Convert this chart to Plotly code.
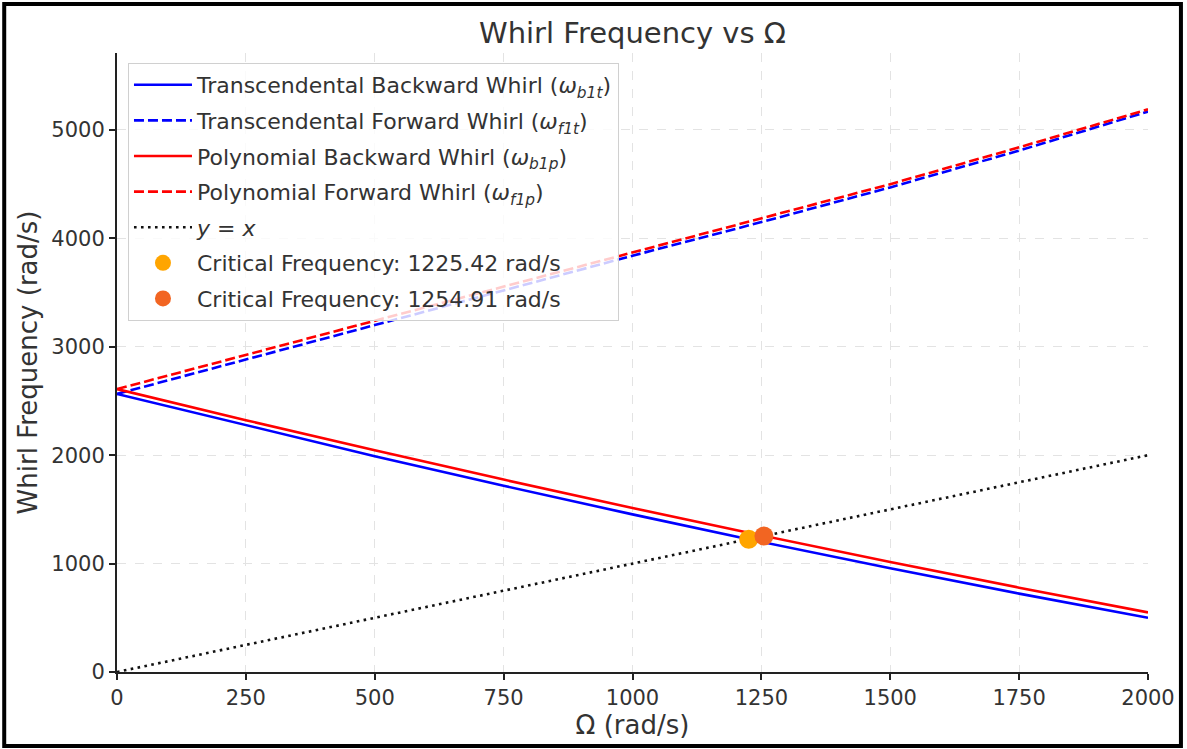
import plotly.graph_objects as go

# Data
omega = [0, 250, 500, 750, 1000, 1250, 1500, 1750, 2000]
w_b1t = [2565, 2276, 1991, 1718, 1454, 1200, 957, 723, 500]
w_f1t = [2565, 2880, 3200, 3520, 3840, 4150, 4470, 4810, 5170]
w_b1p = [2610, 2323, 2045, 1775, 1513, 1260, 1015, 778, 550]
w_f1p = [2610, 2925, 3240, 3555, 3870, 4180, 4500, 4840, 5190]
yx_x = [0, 2000]
crit_1 = 1225.42
crit_2 = 1254.91
x_ticks = [0, 250, 500, 750, 1000, 1250, 1500, 1750, 2000]
y_ticks = [0, 1000, 2000, 3000, 4000, 5000]

FONT = "DejaVu Sans"
TXT = "#333333"
LW = 2.6

fig = go.Figure()
fig.add_trace(go.Scatter(x=omega, y=w_b1t, mode="lines", legendgroup="a",
                         line=dict(color="#0000FF", width=LW),
                         name="Transcendental Backward Whirl (<i>ω</i><sub><i>b1t</i></sub>)"))
fig.add_trace(go.Scatter(x=omega, y=w_f1t, mode="lines", legendgroup="b",
                         line=dict(color="#0000FF", width=LW, dash="10px,4px"),
                         name="Transcendental Forward Whirl (<i>ω</i><sub><i>f1t</i></sub>)"))
fig.add_trace(go.Scatter(x=omega, y=w_b1p, mode="lines", legendgroup="c",
                         line=dict(color="#FF0000", width=LW),
                         name="Polynomial Backward Whirl (<i>ω</i><sub><i>b1p</i></sub>)"))
fig.add_trace(go.Scatter(x=omega, y=w_f1p, mode="lines", legendgroup="d",
                         line=dict(color="#FF0000", width=LW, dash="10px,4px"),
                         name="Polynomial Forward Whirl (<i>ω</i><sub><i>f1p</i></sub>)"))
fig.add_trace(go.Scatter(x=yx_x, y=yx_x, mode="lines", legendgroup="e",
                         line=dict(color="#111111", width=LW, dash="2.6px,4.4px"),
                         name="<i>y</i> = <i>x</i>"))
fig.add_trace(go.Scatter(x=[crit_1], y=[crit_1], mode="markers", legendgroup="f",
                         marker=dict(color="#FFA500", size=19),
                         name=f"Critical Frequency: {crit_1:.2f} rad/s"))
fig.add_trace(go.Scatter(x=[crit_2], y=[crit_2], mode="markers", legendgroup="g",
                         marker=dict(color="#F26522", size=19),
                         name=f"Critical Frequency: {crit_2:.2f} rad/s"))

# figure border
W, H = 1187, 749
L, R, T, B = 117, 37, 53, 77
pw, ph = W - L - R, H - T - B
def px(x): return (x - L) / pw
def py(y): return (H - B - y) / ph
fig.add_shape(type="rect", xref="paper", yref="paper",
              x0=px(4), x1=px(1183), y0=py(746), y1=py(4),
              line=dict(color="black", width=4), fillcolor="rgba(0,0,0,0)", layer="above")

fig.update_layout(
    width=W, height=H,
    margin=dict(l=L, r=R, t=T, b=B),
    paper_bgcolor="white", plot_bgcolor="white",
    font=dict(family=FONT, color=TXT, size=21),
    title=dict(text="Whirl Frequency vs Ω", x=0.5, xanchor="center", xref="paper",
               y=1 - 33 / H, yanchor="middle", yref="container",
               font=dict(size=29, color=TXT, family=FONT)),
    showlegend=True,
    legend=dict(x=px(128), y=py(63), xanchor="left", yanchor="top",
                bgcolor="rgba(255,255,255,0.8)", bordercolor="#d0d0d0", borderwidth=1,
                font=dict(size=22, color=TXT, family=FONT),
                tracegroupgap=4, itemwidth=58, traceorder="grouped"),
)
fig.update_xaxes(range=[0, 2000], tickvals=x_ticks, ticktext=[str(v) for v in x_ticks],
                 showline=True, linecolor="#222222", linewidth=2,
                 ticks="outside", ticklen=6, tickwidth=1.5, tickcolor="#222222",
                 showgrid=True, gridcolor="#e3e3e3", griddash="dash", gridwidth=1,
                 zeroline=False,
                 title=dict(text="Ω (rad/s)", font=dict(size=26, color=TXT), standoff=4),
                 tickfont=dict(size=21, color=TXT))
fig.update_yaxes(range=[0, 5710], tickvals=y_ticks, ticktext=[str(v) for v in y_ticks],
                 showline=True, linecolor="#222222", linewidth=2,
                 ticks="outside", ticklen=6, tickwidth=1.5, tickcolor="#222222",
                 showgrid=True, gridcolor="#e3e3e3", griddash="dash", gridwidth=1,
                 zeroline=False,
                 title=dict(text="Whirl Frequency (rad/s)", font=dict(size=26, color=TXT), standoff=6),
                 tickfont=dict(size=21, color=TXT))

fig.write_html("out.html")
